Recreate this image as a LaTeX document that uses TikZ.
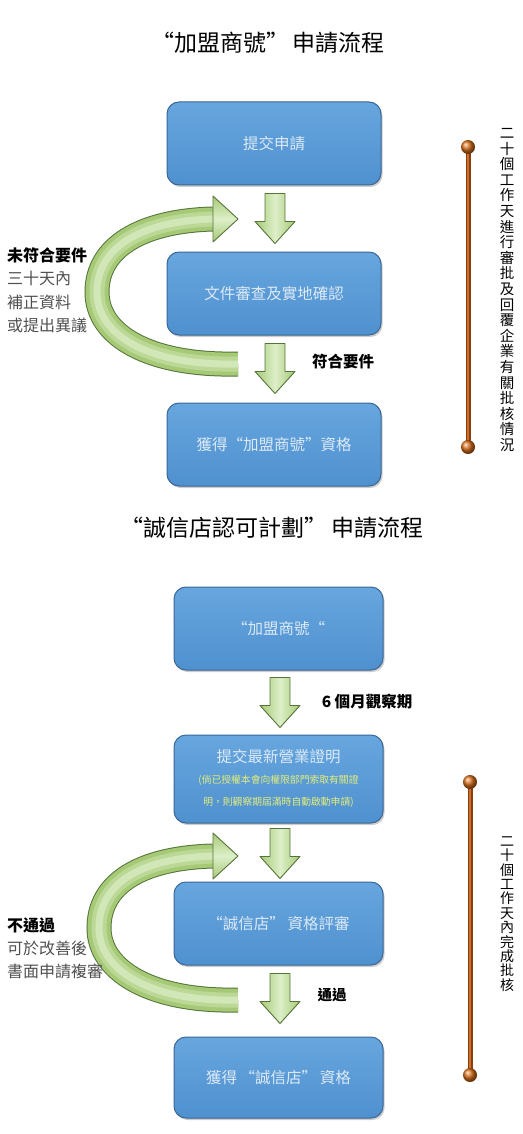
\documentclass[tikz,border=0pt]{standalone}
\usepackage{fontspec}
\newfontfamily\cjk{Noto Sans CJK TC}
\usetikzlibrary{shadows,calc}
\definecolor{boxtop}{HTML}{67A6DE}
\definecolor{boxbot}{HTML}{4F90CF}
\definecolor{boxedge}{HTML}{3A6796}
\definecolor{boxtext}{HTML}{DCEAF7}
\definecolor{gmid}{HTML}{A6C976}
\definecolor{glight}{HTML}{DDEFC8}
\definecolor{gdark}{HTML}{55743A}
\definecolor{bardark}{HTML}{8A3F10}
\definecolor{barmid}{HTML}{D06E26}
\definecolor{ballcol}{HTML}{D9701C}
\definecolor{yellowtxt}{HTML}{E3EE78}
\definecolor{graytxt}{HTML}{505050}
\begin{document}
\begin{tikzpicture}[x=1pt,y=-1pt,
  box/.style={draw=boxedge, line width=1pt, rounded corners=12pt,
    top color=boxtop, bottom color=boxbot, minimum height=83pt,
    text=boxtext, font=\cjk\fontsize{15.5}{18}\selectfont, align=center, inner sep=0pt,
    drop shadow={shadow xshift=1.5pt, shadow yshift=-2pt, opacity=0.4}},
  topbox/.style={box, minimum width=214pt},
  botbox/.style={box, minimum width=209pt},
  garrow/.style={draw=gdark, line width=0.9pt, left color=gmid, right color=gmid, middle color=glight, line join=round},
  ghead/.style={draw=gdark, line width=0.9pt, top color=gmid, bottom color=gmid, middle color=glight, line join=round},
  curvebody/.style={preaction={draw=gdark, line width=25pt},
    preaction={draw=gmid, line width=23pt},
    preaction={draw=gmid!60!glight, line width=15pt},
    draw=glight!80!gmid, line width=7pt},
  downarr/.pic={\draw[garrow] (-10,0) -- (10,0) -- (10,28) -- (20,28) -- (0,50) -- (-20,28) -- (-10,28) -- cycle;},
  title/.style={font=\cjk\fontsize{23}{26}\selectfont, text=black},
  lbl/.style={font=\cjk\bfseries\fontsize{15.5}{18}\selectfont, text=black},
  side/.style={font=\cjk\fontsize{16}{23.6}\selectfont, align=left, anchor=north west, inner sep=0pt},
  ball/.style={circle, minimum size=14pt, inner sep=0pt, shading=ball, ball color=ballcol},
  bar/.style={preaction={draw=bardark, line width=5pt}, draw=barmid, line width=2.5pt},
  vtext/.style={font=\cjk\fontsize{14.5}{15.6}\selectfont, align=center, inner sep=0pt}
]
\useasboundingbox (0,0) rectangle (522,1134);

% ---------- Part 1 ----------
\node[title] (t1) at (268,43) {“加盟商號”\,申請流程};

% curved return arrow (behind)
\coordinate (c1tail) at (238,364);
\coordinate (c1base) at (213,219);
\path[curvebody] (c1tail) .. controls (150,366) and (97,336) .. (97,292) .. controls (97,248) and (140,221) .. (c1base);
\draw[ghead] (213,196) -- (238,219) -- (213,242) -- cycle;

\node[topbox] (b1) at (274,143.5) {提交申請};
\node[topbox] (b2) at (274,293.5) {文件審查及實地確認};
\node[topbox] (b3) at (274,444.5) {獲得“加盟商號”資格};

\path (b1.south) ++(1,8) pic {downarr};
\path (b2.south) ++(1,8) pic {downarr};

\node[lbl] (l1) at (343,362) {符合要件};

\node[side] (s1) at (7,247) {\textbf{\color{black}未符合要件}\\\color{graytxt}三十天內\\\color{graytxt}補正資料\\\color{graytxt}或提出異議};

\coordinate (r1t) at (468,147);
\coordinate (r1b) at (468,447);
\draw[bar] (r1t) -- (r1b);
\node[ball] (r1tb) at (r1t) {};
\node[ball] (r1bb) at (r1b) {};
\node[vtext] (v1) at (507,290)
 {二\\十\\個\\工\\作\\天\\進\\行\\審\\批\\及\\回\\覆\\企\\業\\有\\關\\批\\核\\情\\況};

% ---------- Part 2 ----------
\node[title] (t2) at (272,528) {“誠信店認可計劃”\,申請流程};

\coordinate (c2tail) at (238,1000);
\coordinate (c2base) at (213,856);
\path[curvebody] (c2tail) .. controls (150,1002) and (99,970) .. (99,928) .. controls (99,884) and (140,858) .. (c2base);
\draw[ghead] (213,833) -- (238,856) -- (213,879) -- cycle;

\node[botbox] (b4) at (278.5,628.5) {“加盟商號“};
\node[botbox, minimum height=88pt] (b5) at (278.5,779) {};
\node[text=boxtext, font=\cjk\fontsize{15.5}{18}\selectfont, inner sep=0pt] (b5a) at ($(b5.center)+(0,-22)$) {提交最新營業證明};
\node[text=yellowtxt, font=\cjk\fontsize{9.8}{22}\selectfont, align=center, inner sep=0pt] (b5b) at ($(b5.center)+(0,12)$)
 {(倘已授權本會向權限部門索取有關證\\明，則觀察期屆滿時自動啟動申請)};
\node[botbox] (b6) at (278.5,923.5) {“誠信店”\,資格評審};
\node[botbox, minimum height=81pt] (b7) at (278.5,1077.5) {獲得\,“誠信店”\,資格};

\path (b4.south) ++(1.5,7) pic {downarr};
\path (b5.south) ++(1.5,5) pic {downarr};
\path (b6.south) ++(1.5,8) pic {downarr};

\node[lbl] (l2) at (367,702) {6 個月觀察期};
\node[lbl, font=\cjk\bfseries\fontsize{14.5}{17}\selectfont] (l3) at (332,995) {通過};

\node[side, font=\cjk\fontsize{16}{23}\selectfont] (s2) at (7,918) {\textbf{\color{black}不通過}\\\color{graytxt}可於改善後\\\color{graytxt}書面申請複審};

\coordinate (r2t) at (470,782);
\coordinate (r2b) at (470,1075);
\draw[bar] (r2t) -- (r2b);
\node[ball] (r2tb) at (r2t) {};
\node[ball] (r2bb) at (r2b) {};
\node[vtext, font=\cjk\fontsize{14}{14.4}\selectfont] (v2) at (507,914)
 {二\\十\\個\\工\\作\\天\\內\\完\\成\\批\\核};
\end{tikzpicture}
\end{document}
